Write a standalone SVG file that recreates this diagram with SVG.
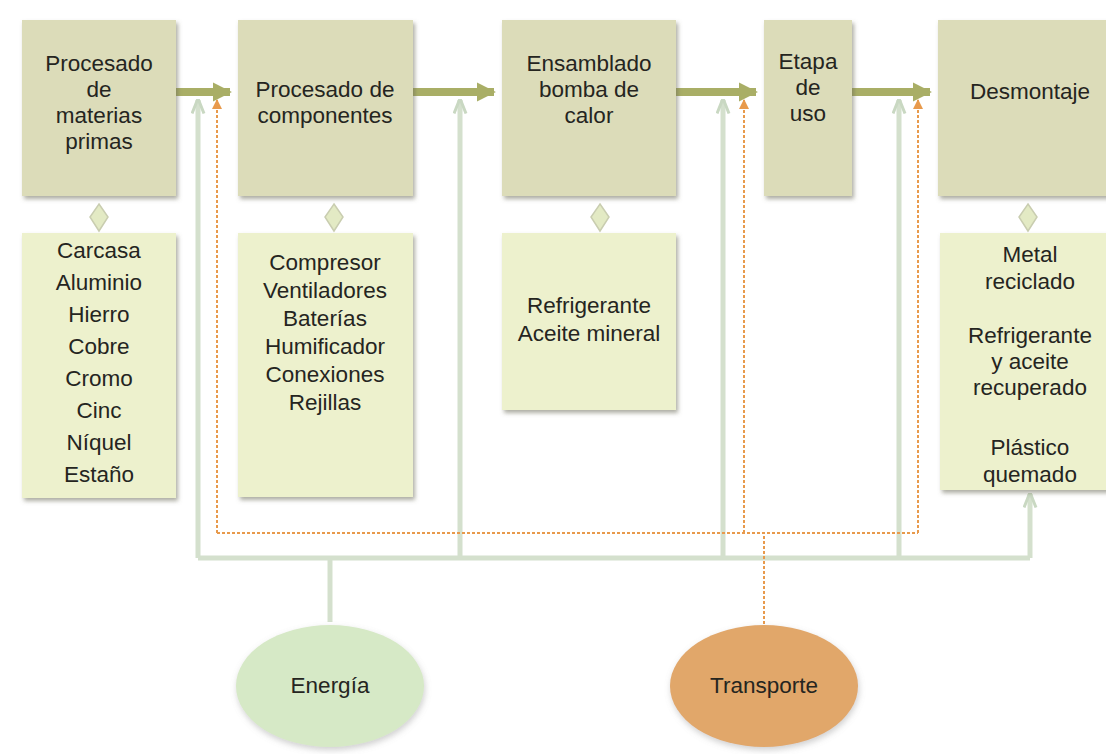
<svg xmlns="http://www.w3.org/2000/svg" width="1106" height="754" viewBox="0 0 1106 754">
<defs>
<style>
text{font-family:"Liberation Sans",Arial,sans-serif;font-size:22.5px;fill:#25251f;text-anchor:middle}
.top{fill:#dcdcb9}
.bot{fill:#edf1cd}
.dia{fill:#e3eac4;stroke:#c9cdb0;stroke-width:1.5}
.flow{stroke:#a9ae66;stroke-width:8;fill:none}
.gline{stroke:#d4e0cd;stroke-width:5;fill:none}
.oline{stroke:#e89a4c;stroke-width:2;stroke-dasharray:3 2;fill:none}
</style>
<filter id="sh" x="-10%" y="-10%" width="125%" height="125%">
<feDropShadow dx="2" dy="3" stdDeviation="2" flood-color="#6b6b55" flood-opacity="0.55"/>
</filter>
<filter id="sh2" x="-10%" y="-10%" width="125%" height="125%">
<feDropShadow dx="1" dy="3" stdDeviation="3" flood-color="#888" flood-opacity="0.4"/>
</filter>
<marker id="ahf" viewBox="0 0 10 10" refX="9" refY="5" markerWidth="2.4" markerHeight="3" orient="auto" markerUnits="strokeWidth">
<path d="M0,0 L10,5 L0,10 Z" fill="#a9ae66"/>
</marker>
<marker id="ahg" viewBox="0 0 10 10" refX="9" refY="5" markerWidth="3" markerHeight="3" orient="auto" markerUnits="strokeWidth">
<path d="M0,1 L10,5 L0,9" fill="none" stroke="#c9d8c2" stroke-width="2"/>
</marker>
<marker id="aho" viewBox="0 0 10 10" refX="9" refY="5" markerWidth="5" markerHeight="5" orient="auto" markerUnits="strokeWidth">
<path d="M0,0 L10,5 L0,10 Z" fill="#e89a4c"/>
</marker>
</defs>

<g id="connectors">
<path class="gline" d="M330,622 V558"/>
<path class="gline" d="M198,558 H1030"/>
<path class="gline" d="M198,558 V100" marker-end="url(#ahg)"/>
<path class="gline" d="M460,558 V100" marker-end="url(#ahg)"/>
<path class="gline" d="M723,558 V100" marker-end="url(#ahg)"/>
<path class="gline" d="M899,558 V100" marker-end="url(#ahg)"/>
<path class="gline" d="M1030,558 V494" marker-end="url(#ahg)"/>
<path class="oline" d="M764,624 V533"/>
<path class="oline" d="M217,533 H918"/>
<path class="oline" d="M217,533 V100" marker-end="url(#aho)"/>
<path class="oline" d="M744,533 V100" marker-end="url(#aho)"/>
<path class="oline" d="M918,533 V100" marker-end="url(#aho)"/>
<path class="flow" d="M176,92 H230" marker-end="url(#ahf)"/>
<path class="flow" d="M413,92 H494" marker-end="url(#ahf)"/>
<path class="flow" d="M676,92 H756" marker-end="url(#ahf)"/>
<path class="flow" d="M852,92 H930" marker-end="url(#ahf)"/>
<path class="dia" d="M99,204 L108,217 L99,231 L90,217 Z"/>
<path class="dia" d="M334,204 L343,217 L334,231 L325,217 Z"/>
<path class="dia" d="M600,204 L609,217 L600,231 L591,217 Z"/>
<path class="dia" d="M1028,204 L1037,217 L1028,231 L1019,217 Z"/>
</g>

<g id="n1">
<rect class="top" x="22" y="20" width="154" height="176" filter="url(#sh)"/>
<text x="99" y="71">Procesado</text>
<text x="99" y="97">de</text>
<text x="99" y="123">materias</text>
<text x="99" y="149">primas</text>
</g>
<g id="n2">
<rect class="top" x="238" y="20" width="175" height="176" filter="url(#sh)"/>
<text x="325" y="97">Procesado de</text>
<text x="325" y="123">componentes</text>
</g>
<g id="n3">
<rect class="top" x="502" y="20" width="174" height="176" filter="url(#sh)"/>
<text x="589" y="71">Ensamblado</text>
<text x="589" y="97">bomba de</text>
<text x="589" y="123">calor</text>
</g>
<g id="n4">
<rect class="top" x="764" y="20" width="88" height="176" filter="url(#sh)"/>
<text x="808" y="69">Etapa</text>
<text x="808" y="95">de</text>
<text x="808" y="121">uso</text>
</g>
<g id="n5">
<rect class="top" x="938" y="20" width="180" height="176" filter="url(#sh)"/>
<text x="1030" y="99">Desmontaje</text>
</g>

<g id="m1">
<rect class="bot" x="22" y="233" width="154" height="265" filter="url(#sh)"/>
<text x="99" y="258">Carcasa</text>
<text x="99" y="290">Aluminio</text>
<text x="99" y="322">Hierro</text>
<text x="99" y="354">Cobre</text>
<text x="99" y="386">Cromo</text>
<text x="99" y="418">Cinc</text>
<text x="99" y="450">Níquel</text>
<text x="99" y="482">Estaño</text>
</g>
<g id="m2">
<rect class="bot" x="238" y="233" width="175" height="264" filter="url(#sh)"/>
<text x="325" y="270">Compresor</text>
<text x="325" y="298">Ventiladores</text>
<text x="325" y="326">Baterías</text>
<text x="325" y="354">Humificador</text>
<text x="325" y="382">Conexiones</text>
<text x="325" y="410">Rejillas</text>
</g>
<g id="m3">
<rect class="bot" x="502" y="233" width="174" height="177" filter="url(#sh)"/>
<text x="589" y="313">Refrigerante</text>
<text x="589" y="341">Aceite mineral</text>
</g>
<g id="m5">
<rect class="bot" x="940" y="233" width="180" height="257" filter="url(#sh)"/>
<text x="1030" y="262">Metal</text>
<text x="1030" y="289">reciclado</text>
<text x="1030" y="343">Refrigerante</text>
<text x="1030" y="369">y aceite</text>
<text x="1030" y="395">recuperado</text>
<text x="1030" y="455">Plástico</text>
<text x="1030" y="482">quemado</text>
</g>

<g id="energia">
<ellipse cx="330" cy="686" rx="94" ry="61" fill="#d6e9c6" filter="url(#sh2)"/>
<text x="330" y="693">Energía</text>
</g>
<g id="transporte">
<ellipse cx="764" cy="686" rx="94" ry="61" fill="#e1a76b" filter="url(#sh2)"/>
<text x="764" y="693">Transporte</text>
</g>
</svg>
